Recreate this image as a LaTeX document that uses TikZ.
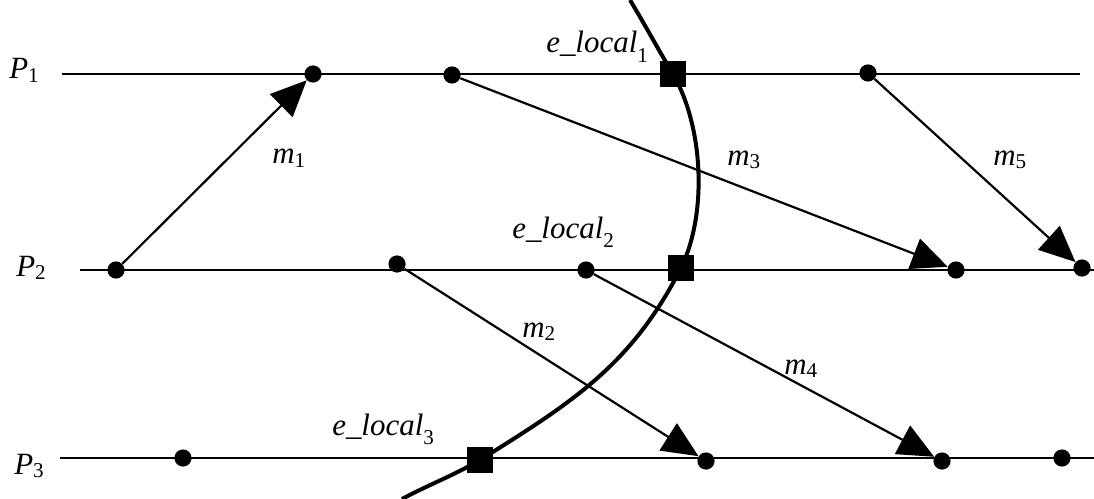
\documentclass[tikz,border=0pt]{standalone}
\usepackage{fontspec}
\setmainfont{Liberation Serif}
\usetikzlibrary{arrows,arrows.meta}

\newcommand{\idx}[2][0.1em]{\raisebox{-#1}{\fontsize{15}{17}\selectfont\upshape #2}}

\tikzset{
  evt/.style={circle, fill, inner sep=0pt, minimum size=0.43cm},
  cutevt/.style={rectangle, fill, inner sep=0pt, minimum size=0.65cm},
  proc/.style={line width=0.055cm},
  msg/.style={line width=0.055cm, -{Triangle[length=0.9cm,width=0.8cm]}},
  cutline/.style={line width=0.1cm},
  lbl/.style={font=\fontsize{22}{25}\selectfont\itshape, inner sep=0pt, anchor=base west}
}

\begin{document}
\begin{tikzpicture}[x=0.025cm, y=-0.025cm]
\useasboundingbox (0,0) rectangle (1094,499);

\coordinate (p1s) at (62,74);  \coordinate (p1e) at (1080,74);
\coordinate (p2s) at (80,270); \coordinate (p2e) at (1094,270);
\coordinate (p3s) at (60,458); \coordinate (p3e) at (1094,458);
\draw[proc] (p1s) -- (p1e);
\draw[proc] (p2s) -- (p2e);
\draw[proc] (p3s) -- (p3e);

\node[lbl] (lp1) at (9,79) {P\idx{1}};
\node[lbl] (lp2) at (16,276) {P\idx{2}};
\node[lbl] (lp3) at (14,474) {P\idx{3}};

\node[evt] (a1) at (313,74) {};
\node[evt] (a2) at (452,75) {};
\node[evt] (a3) at (868,73) {};
\node[evt] (b1) at (116,270) {};
\node[evt] (b2) at (397,264) {};
\node[evt] (b3) at (586,270) {};
\node[evt] (b4) at (956,270) {};
\node[evt] (b5) at (1082,268) {};
\node[evt] (c1) at (183,458) {};
\node[evt] (c2) at (706,461) {};
\node[evt] (c3) at (942,461) {};
\node[evt] (c4) at (1062,458) {};

\node[cutevt] (s1) at (673,74) {};
\node[cutevt] (s2) at (681,268) {};
\node[cutevt] (s3) at (480,460) {};

\coordinate (ctop) at (630,0);
\coordinate (cbot) at (402,499);
\draw[cutline] (ctop) to[out=-59,in=121] (s1.center)
  to[out=-60,in=64,looseness=0.8] (s2.center)
  to[out=-117,in=32] (s3.center)
  to[out=-150,in=28] (cbot);

\draw[msg] (b1) -- (a1);
\draw[msg] (a2) -- (b4);
\draw[msg] (a3) -- (b5);
\draw[msg] (b2) -- (c2);
\draw[msg] (b3) -- (c3);

\node[lbl] (m1) at (272,164) {m\idx{1}};
\node[lbl] (m2) at (522,337) {m\idx{2}};
\node[lbl] (m3) at (727,165) {m\idx{3}};
\node[lbl] (m4) at (784,374) {m\idx{4}};
\node[lbl] (m5) at (993,165) {m\idx{5}};

\node[lbl] (e1) at (546,53) {e\_local\idx[0.3em]{1}};
\node[lbl] (e2) at (512,238) {e\_local\idx[0.3em]{2}};
\node[lbl] (e3) at (332,435) {e\_local\idx[0.3em]{3}};
\end{tikzpicture}
\end{document}
